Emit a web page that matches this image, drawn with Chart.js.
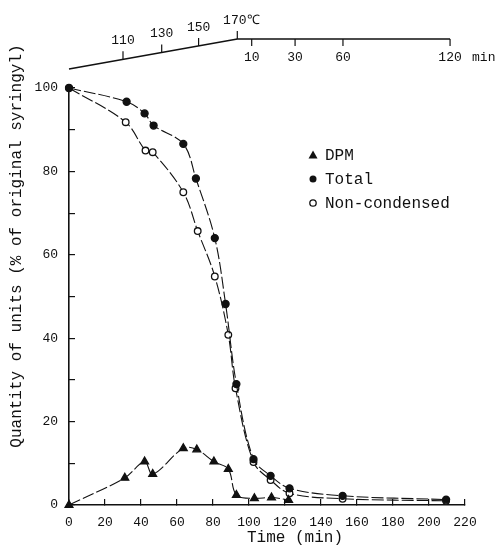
<!DOCTYPE html>
<html>
<head>
<meta charset="utf-8">
<script src="https://cdn.jsdelivr.net/npm/chart.js@4/dist/chart.umd.min.js"></script>
<style>
  html, body { margin: 0; padding: 0; background: #fff; }
  #wrap { width: 500px; height: 549px; }
</style>
</head>
<body>
<div id="wrap"><canvas id="syringyl"></canvas></div>
<script>
// values
const dpmTime = [0, 31, 42, 46.5, 63.5, 71, 80.5, 88.5, 93, 103, 112.5, 122];
const dpmValue = [0, 6.5, 10.4, 7.4, 13.6, 13.3, 10.4, 8.6, 2.4, 1.6, 1.8, 1.2];

const totalTime = [0, 32, 42, 47, 63.5, 70.5, 81, 87, 93, 102.5, 112, 122.5, 152, 209.5];
const totalValue = [100, 96.7, 93.9, 91, 86.6, 78.3, 64, 48.2, 29, 11, 7, 4, 2.2, 1.3];

const noncondTime = [0, 31.5, 42.5, 46.5, 63.5, 71.5, 81, 88.5, 92.5, 102.5, 112, 122.5, 152, 209.5];
const noncondValue = [100, 91.8, 85, 84.6, 75, 65.7, 54.8, 40.8, 28, 10.3, 6, 2.8, 1.5, 1];

// temperature program shown above the plot (positions given in time units of the x axis)
const tempLabels = ['110', '130', '150', '170℃'];
const tempTimes = [30, 51.5, 72, 93.5];
const holdLabels = ['10', '30', '60', '120'];
const holdTimes = [101.5, 125.6, 152.2, 211.7];
const holdEnd = 211.7;

const legendLabels = ['DPM', 'Total', 'Non-condensed'];

const FONT = "'Liberation Mono', 'DejaVu Sans Mono', monospace";

function pts(xs, ys) {
    return xs.map((x, i) => ({ x: x, y: ys[i] }));
}

function marker(ctx, kind, x, y) {
    ctx.save();
    ctx.fillStyle = '#111';
    ctx.strokeStyle = '#111';
    ctx.lineWidth = 1.3;
    ctx.beginPath();
    if (kind === 0) {
        ctx.moveTo(x, y - 4.5);
        ctx.lineTo(x + 4.5, y + 3.5);
        ctx.lineTo(x - 4.5, y + 3.5);
        ctx.closePath();
        ctx.fill();
    } else if (kind === 1) {
        ctx.arc(x, y, 3.5, 0, Math.PI * 2);
        ctx.fill();
    } else {
        ctx.arc(x, y, 3.2, 0, Math.PI * 2);
        ctx.fillStyle = '#fff';
        ctx.fill();
        ctx.stroke();
    }
    ctx.restore();
}

const extras = {
    id: 'extras',
    afterDraw(chart) {
        const ctx = chart.ctx;
        const xs = chart.scales.x;
        ctx.save();
        ctx.strokeStyle = '#111';
        ctx.fillStyle = '#111';
        ctx.lineWidth = 1.6;

        // temperature ramp then hold line
        const yStart = 69, yHold = 39;
        const x0 = xs.getPixelForValue(0);
        const xc = xs.getPixelForValue(tempTimes[tempTimes.length - 1]);
        const xe = xs.getPixelForValue(holdEnd);
        ctx.beginPath();
        ctx.moveTo(x0, yStart);
        ctx.lineTo(xc, yHold);
        ctx.lineTo(xe, yHold);
        ctx.stroke();

        ctx.lineWidth = 1.2;
        ctx.font = '13px ' + FONT;
        ctx.textAlign = 'center';
        ctx.textBaseline = 'bottom';
        tempTimes.forEach((t, i) => {
            const px = xs.getPixelForValue(t);
            const py = yStart + (yHold - yStart) * (px - x0) / (xc - x0);
            ctx.beginPath();
            ctx.moveTo(px, py);
            ctx.lineTo(px, py - 8);
            ctx.stroke();
            const off = i === tempLabels.length - 1 ? 4 : 0;
            ctx.fillText(tempLabels[i], px + off, py - 12);
        });
        ctx.textBaseline = 'top';
        holdTimes.forEach((t, i) => {
            const px = xs.getPixelForValue(t);
            ctx.beginPath();
            ctx.moveTo(px, yHold);
            ctx.lineTo(px, yHold + 7);
            ctx.stroke();
            ctx.fillText(holdLabels[i], px, yHold + 12);
        });
        ctx.textAlign = 'left';
        ctx.fillText('min', xe + 22, yHold + 12);

        // axis titles
        ctx.font = '16px ' + FONT;
        ctx.textAlign = 'center';
        ctx.textBaseline = 'middle';
        ctx.fillText('Time (min)', 295, 538);
        ctx.save();
        ctx.translate(17, 246);
        ctx.rotate(-Math.PI / 2);
        ctx.fillText('Quantity of units (% of original syringyl)', 0, 0);
        ctx.restore();

        // legend
        ctx.textAlign = 'left';
        legendLabels.forEach((lab, i) => {
            const ly = 155 + i * 24;
            marker(ctx, i, 313, ly);
            ctx.fillStyle = '#111';
            ctx.fillText(lab, 325, ly + 1);
        });
        ctx.restore();
    }
};

const lineBase = {
    borderColor: '#111',
    borderWidth: 1.1,
    borderDash: [12, 3],
    tension: 0.35,
    clip: false,
    pointBorderColor: '#111',
    pointBorderWidth: 1.3
};

new Chart(document.getElementById('syringyl'), {
    type: 'line',
    data: {
        datasets: [
            Object.assign({}, lineBase, {
                label: 'DPM',
                data: pts(dpmTime, dpmValue),
                pointStyle: 'triangle',
                pointRadius: 4.5,
                pointBackgroundColor: '#111'
            }),
            Object.assign({}, lineBase, {
                label: 'Total',
                data: pts(totalTime, totalValue),
                pointStyle: 'circle',
                pointRadius: 3.5,
                pointBackgroundColor: '#111'
            }),
            Object.assign({}, lineBase, {
                label: 'Non-condensed',
                data: pts(noncondTime, noncondValue),
                pointStyle: 'circle',
                pointRadius: 3.3,
                pointBackgroundColor: '#fff'
            })
        ]
    },
    options: {
        responsive: true,
        maintainAspectRatio: false,
        animation: false,
        layout: { padding: { top: 88, right: 35, left: 0, bottom: 0 } },
        plugins: {
            legend: { display: false },
            tooltip: { enabled: false }
        },
        scales: {
            x: {
                type: 'linear',
                min: 0,
                max: 220,
                afterFit: s => { s.height = 44; },
                border: { display: true, color: '#111', width: 1.6 },
                grid: { drawOnChartArea: false, color: '#111', tickLength: -6, lineWidth: 1.2 },
                ticks: {
                    stepSize: 20,
                    autoSkip: false,
                    maxRotation: 0,
                    padding: 16,
                    color: '#111',
                    font: { family: FONT, size: 13 }
                }
            },
            y: {
                min: 0,
                max: 100,
                afterFit: s => { s.width = 69; },
                border: { display: true, color: '#111', width: 1.6 },
                grid: { drawOnChartArea: false, color: '#111', tickLength: -6, lineWidth: 1.2 },
                ticks: {
                    stepSize: 10,
                    padding: 17,
                    color: '#111',
                    font: { family: FONT, size: 13 },
                    callback: v => (v % 20 === 0 ? v : '')
                }
            }
        }
    },
    plugins: [extras]
});
</script>
</body>
</html>
